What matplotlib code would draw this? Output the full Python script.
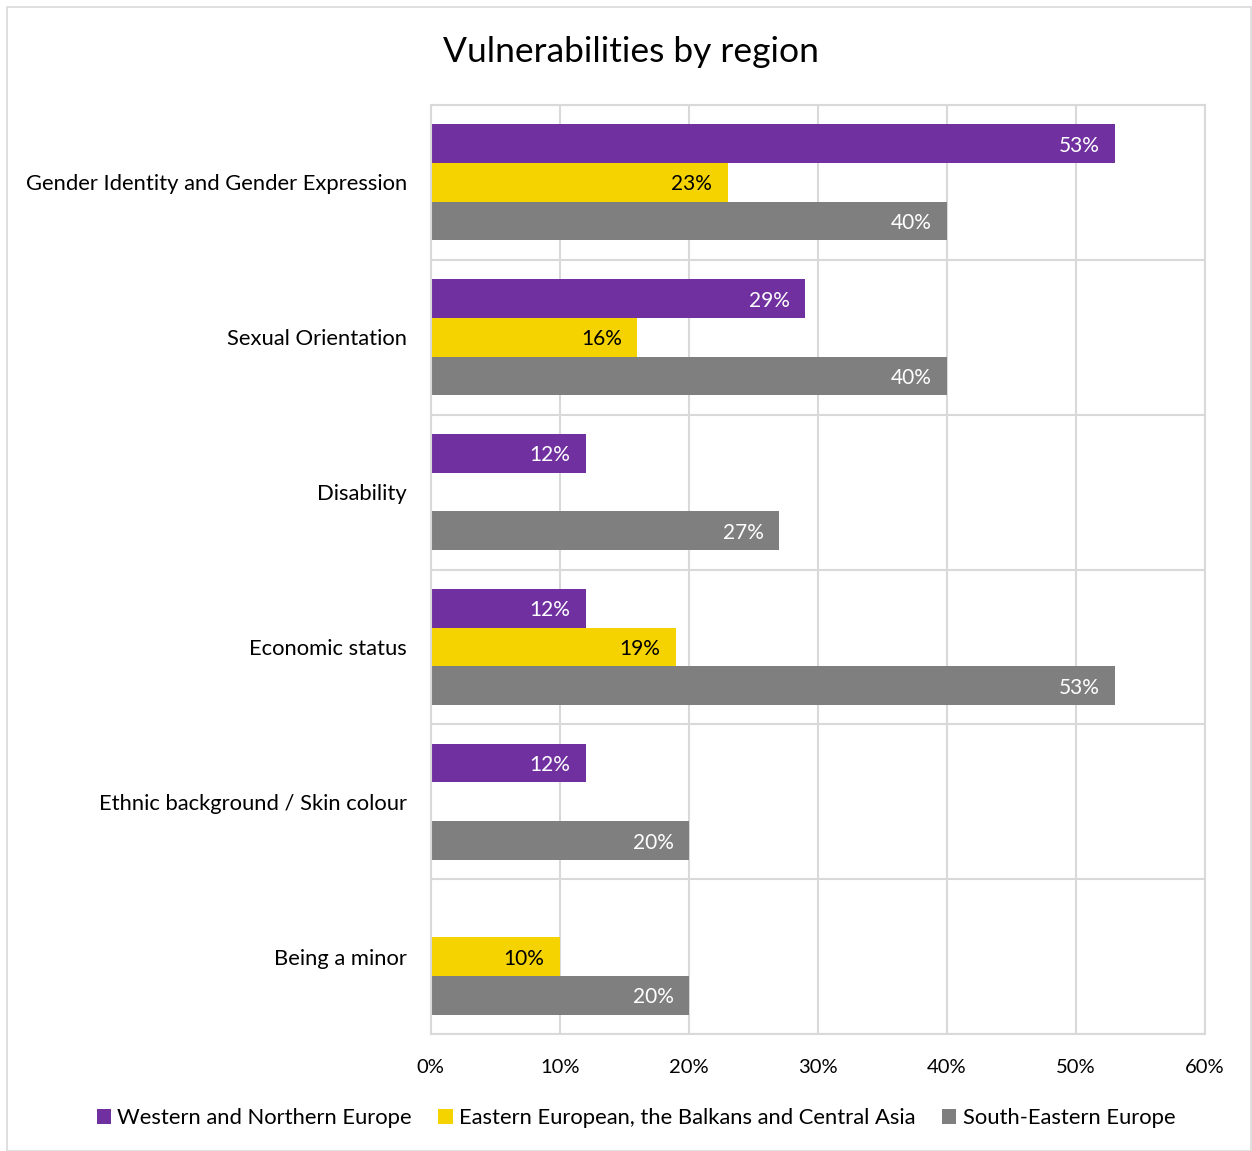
import numpy as np
import matplotlib.pyplot as plt
from matplotlib.patches import Rectangle

plt.rcParams['font.family'] = ['Lato', 'DejaVu Sans']

categories = ["Gender Identity and Gender Expression", "Sexual Orientation", "Disability",
              "Economic status", "Ethnic background / Skin colour", "Being a minor"]
series_names = ["Western and Northern Europe", "Eastern European, the Balkans and Central Asia",
                "South-Eastern Europe"]
western = [53, 29, 12, 12, 12, np.nan]
eastern = [23, 16, np.nan, 19, np.nan, 10]
south_eastern = [40, 40, 27, 53, 20, 20]

colors = ['#7030A0', '#F5D300', '#7F7F7F']
label_colors = ['white', 'black', 'white']
grid_col = '#D9D9D9'

fig = plt.figure(figsize=(12.52, 11.51), dpi=100)
ax = fig.add_axes([0.344, 0.1016, 0.6185, 0.8072])

y = np.arange(len(categories))
h = 0.25
for i, (vals, name) in enumerate(zip([western, eastern, south_eastern], series_names)):
    vals = np.array(vals, dtype=float) / 100
    pos = y + (i - 1) * h
    ax.barh(pos, np.nan_to_num(vals), height=h, color=colors[i], label=name)
    for p, v in zip(pos, vals):
        if np.isnan(v):
            continue
        ax.annotate(f"{v*100:.0f}%", (v, p), xytext=(-11, -1.5), textcoords='offset points',
                    ha='right', va='center', color=label_colors[i], fontsize=15)

ax.set_xlim(0, 0.6)
ax.set_ylim(len(categories) - 0.5, -0.5)
ax.set_xticks(np.arange(0, 0.61, 0.1))
ax.set_xticklabels([f"{int(round(t*100))}%" for t in np.arange(0, 0.61, 0.1)], fontsize=14.5)
ax.set_yticks(y)
ax.set_yticklabels(categories, fontsize=15.8)
ax.set_yticks(np.arange(-0.5, len(categories), 1), minor=True)
ax.tick_params(axis='both', which='both', length=0)
ax.tick_params(axis='x', pad=18)
ax.tick_params(axis='y', pad=17)
ax.grid(True, axis='x', color=grid_col, linewidth=1.5)
ax.grid(True, axis='y', which='minor', color=grid_col, linewidth=1.5)
ax.set_axisbelow(True)
for s in ax.spines.values():
    s.set_color(grid_col)
    s.set_linewidth(1.5)

fig.text(0.504, 0.955, "Vulnerabilities by region", ha='center', va='center', fontsize=25.5)

fig.legend(loc='center', bbox_to_anchor=(0.508, 0.0286), ncol=3, frameon=False, fontsize=15.8,
           handlelength=0.65, handleheight=0.65, handletextpad=0.3, columnspacing=1.2)

fig.patches.append(Rectangle((0.0056, 0.0), 0.994, 0.9939, transform=fig.transFigure,
                             fill=False, edgecolor=grid_col, linewidth=1.2))

fig.savefig("out.png", dpi=100)
